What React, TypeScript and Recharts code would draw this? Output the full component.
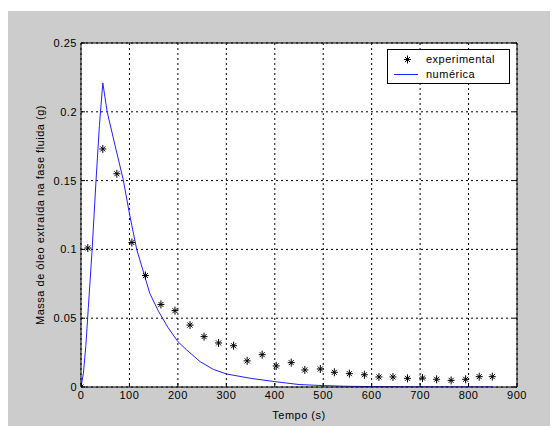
import React from 'react';
import {
  ComposedChart,
  Line,
  Scatter,
  XAxis,
  YAxis,
  CartesianGrid,
  Label,
} from 'recharts';

// experimental points (t in s, mass in g)
const expTime = [0, 14, 45, 74, 105, 133, 165, 194, 225, 254, 284, 315, 343, 374, 403, 434, 462, 494, 523, 554, 585, 615, 644, 674, 705, 734, 764, 794, 822, 849];
const expMass = [0, 0.101, 0.173, 0.155, 0.105, 0.081, 0.06, 0.0555, 0.045, 0.0366, 0.032, 0.03, 0.019, 0.0235, 0.0153, 0.0177, 0.0124, 0.0131, 0.0107, 0.0097, 0.0089, 0.0073, 0.0073, 0.0063, 0.0065, 0.0056, 0.0048, 0.0056, 0.0075, 0.0075];

// numerical model curve
const numTime = [0, 5, 10, 15, 23, 31, 38, 45, 54, 72, 87, 100, 115, 132, 142, 160, 180, 200, 218, 246, 273, 300, 350, 400, 450, 500, 550, 600, 700, 850];
const numMass = [0, 0.01, 0.03, 0.057, 0.1, 0.15, 0.19, 0.221, 0.2, 0.173, 0.151, 0.126, 0.1, 0.08, 0.068, 0.055, 0.043, 0.033, 0.027, 0.0184, 0.0128, 0.0095, 0.0063, 0.0039, 0.0018, 0.001, 0.0005, 0.0003, 0.0001, 0];

const xTicks = [0, 100, 200, 300, 400, 500, 600, 700, 800, 900];
const yTicks = [0, 0.05, 0.1, 0.15, 0.2, 0.25];

const seriesNames = ['experimental', 'numérica'];
const xTitle = 'Tempo (s)';
const yTitle = 'Massa de óleo extraída na fase fluida (g)';

const expData = expTime.map((t, i) => ({ t, m: expMass[i] }));
const numData = numTime.map((t, i) => ({ t, m: numMass[i] }));

const FONT = '"Liberation Sans", Arial, sans-serif';
const tickStyle = { fill: '#000', fontSize: 11, fontFamily: FONT, letterSpacing: 0.5 };

const Star = (props: any) => {
  const { cx, cy } = props;
  if (cx == null || cy == null) return null;
  return (
    <g stroke="#000" strokeWidth={1}>
      <line x1={cx - 3.5} y1={cy} x2={cx + 3.5} y2={cy} />
      <line x1={cx} y1={cy - 4} x2={cx} y2={cy + 4} />
      <line x1={cx - 2.5} y1={cy - 2.5} x2={cx + 2.5} y2={cy + 2.5} />
      <line x1={cx - 2.5} y1={cy + 2.5} x2={cx + 2.5} y2={cy - 2.5} />
    </g>
  );
};

const YTitle = (props: any) => {
  const { viewBox } = props;
  const x = viewBox.x + 32;
  const y = viewBox.y + viewBox.height / 2;
  return (
    <text x={x} y={y} transform={`rotate(-90, ${x}, ${y})`} textAnchor="middle" dominantBaseline="central"
      style={{ fontSize: 11, fontFamily: FONT, letterSpacing: 0.5, fill: '#000' }}>
      {yTitle}
    </text>
  );
};

const XTitle = (props: any) => {
  const { viewBox } = props;
  const x = viewBox.x + viewBox.width / 2;
  const y = viewBox.y + 28;
  return (
    <text x={x} y={y} textAnchor="middle" dominantBaseline="central"
      style={{ fontSize: 11, fontFamily: FONT, letterSpacing: 0.5, fill: '#000' }}>
      {xTitle}
    </text>
  );
};

const fmtY = (v: number) => String(v);

export default function App() {
  return (
    <div style={{ paddingTop: 3 }}>
      <div style={{ position: 'relative', width: 550, height: 415, background: '#cccccc' }}>
        <ComposedChart width={550} height={415} margin={{ top: 0, right: 0, bottom: 0, left: 0 }}>
          <CartesianGrid fill="#fff" stroke="#000" strokeDasharray="2 3" horizontalValues={yTicks} verticalValues={xTicks} />
          <XAxis type="number" dataKey="t" domain={[0, 900]} ticks={xTicks} height={39}
            stroke="#000" tick={tickStyle} tickSize={-4} tickMargin={8} interval={0} allowDataOverflow>
            <Label content={<XTitle />} />
          </XAxis>
          <XAxis xAxisId="top" orientation="top" type="number" domain={[0, 900]} ticks={xTicks} height={32}
            stroke="#000" tickSize={-4} tickFormatter={() => ''} interval={0} allowDataOverflow />
          <YAxis type="number" domain={[0, 0.25]} ticks={yTicks} width={73}
            stroke="#000" tick={tickStyle} tickSize={-4} tickMargin={8} tickFormatter={fmtY} interval={0} allowDataOverflow>
            <Label content={<YTitle />} />
          </YAxis>
          <YAxis yAxisId="right" orientation="right" type="number" domain={[0, 0.25]} ticks={yTicks} width={41}
            stroke="#000" tickSize={-4} tickFormatter={() => ''} interval={0} allowDataOverflow />
          <Line data={numData} dataKey="m" type="linear" stroke="#2020ff" strokeWidth={1} dot={false}
            isAnimationActive={false} name={seriesNames[1]} />
          <Scatter data={expData} dataKey="m" shape={<Star />} isAnimationActive={false} name={seriesNames[0]} />
        </ComposedChart>
        <div style={{
          position: 'absolute', left: 379, top: 38, width: 121, height: 33,
          border: '1px solid #000', background: '#fff', fontFamily: FONT, fontSize: 11, letterSpacing: 0.5,
        }}>
          <svg width={36} height={33} style={{ position: 'absolute', left: 0, top: 0 }}>
            <Star cx={19.5} cy={9.5} />
            <line x1={6} y1={24.5} x2={30} y2={24.5} stroke="#2020ff" strokeWidth={1} />
          </svg>
          <div style={{ position: 'absolute', left: 38, top: 2, lineHeight: '15px', color: '#000' }}>
            <div>{seriesNames[0]}</div>
            <div>{seriesNames[1]}</div>
          </div>
        </div>
      </div>
    </div>
  );
}
